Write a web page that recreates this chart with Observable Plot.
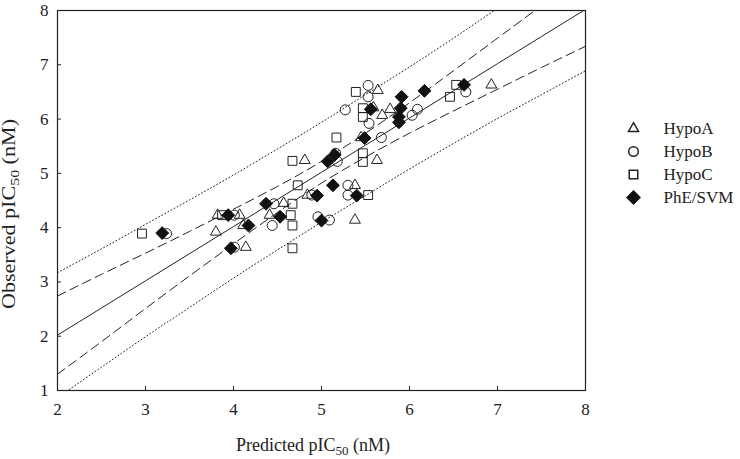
<!DOCTYPE html>
<html><head><meta charset="utf-8">
<script src="https://cdn.jsdelivr.net/npm/d3@7"></script>
<script src="https://cdn.jsdelivr.net/npm/@observablehq/plot@0.6"></script>
<style>
body{margin:0;background:#fff;}
#wrap{position:relative;width:740px;height:459px;font-family:"Liberation Serif","Times New Roman",serif;}
#legend{position:absolute;left:615px;top:113px;}
</style></head><body><div id="wrap"><div id="chart"></div><div id="legend"></div></div>
<script>
// ---- data ----
const seriesNames = ["HypoA", "HypoB", "HypoC", "PhE/SVM"];
const seriesSymbols = ["triangle2", "circle", "square", "diamond2"];

const hypoAPred = [3.82, 4.07, 3.80, 4.11, 4.14, 4.57, 4.41, 4.81, 5.63, 4.84, 5.38, 5.38, 5.64, 5.59, 5.69, 5.78, 5.45, 6.93];
const hypoAObs  = [4.23, 4.23, 3.92, 4.04, 3.64, 4.45, 4.23, 5.24, 5.24, 4.60, 4.78, 4.14, 6.53, 6.21, 6.07, 6.18, 5.66, 6.63];

const hypoBPred = [3.24, 4.01, 4.01, 4.46, 4.44, 5.18, 5.30, 4.89, 5.30, 4.96, 5.09, 5.53, 5.53, 5.27, 5.54, 5.68, 5.16, 6.03, 6.09, 6.64];
const hypoBObs  = [3.89, 4.23, 3.64, 4.44, 4.04, 5.22, 4.78, 4.60, 4.60, 4.20, 4.14, 6.62, 6.41, 6.17, 5.92, 5.66, 5.37, 6.07, 6.18, 6.50];

const hypoCPred = [2.96, 3.87, 4.67, 4.65, 4.67, 4.67, 4.73, 4.67, 5.47, 5.47, 5.53, 5.39, 5.47, 5.47, 5.17, 6.53, 6.46];
const hypoCObs  = [3.89, 4.23, 4.44, 4.23, 4.04, 3.62, 4.78, 5.23, 5.21, 5.37, 4.60, 6.50, 6.20, 6.04, 5.66, 6.63, 6.41];

const pheSvmPred = [3.19, 3.94, 4.17, 3.97, 4.37, 4.53, 5.07, 5.15, 5.13, 4.95, 5.40, 5.00, 5.56, 5.49, 5.91, 6.17, 6.62, 5.90, 5.88, 5.88];
const pheSvmObs  = [3.90, 4.23, 4.04, 3.62, 4.44, 4.20, 5.22, 5.34, 4.78, 4.59, 4.59, 4.13, 6.18, 5.65, 6.41, 6.52, 6.63, 6.20, 6.04, 5.94];

// fitted line and bands, read at these predicted values
const bandX     = [2, 2.5, 3, 3.5, 4, 4.5, 5, 5.5, 6, 6.5, 7, 7.5, 8];
const fitY      = [2.02, 2.52, 3.02, 3.52, 4.02, 4.52, 5.02, 5.52, 6.02, 6.52, 7.02, 7.52, 8.02];
const confUpper = [2.74, 3.14, 3.53, 3.93, 4.34, 4.76, 5.22, 5.74, 6.30, 6.89, 7.49, 8.09, 8.70];
const confLower = [1.30, 1.90, 2.51, 3.11, 3.70, 4.28, 4.82, 5.30, 5.74, 6.15, 6.55, 6.95, 7.34];
const predUpper = [3.17, 3.61, 4.06, 4.51, 4.97, 5.45, 5.94, 6.45, 6.96, 7.49, 8.04, 8.59, 9.15];
const predLower = [0.87, 1.43, 1.99, 2.53, 3.07, 3.59, 4.10, 4.59, 5.08, 5.55, 6.01, 6.45, 6.89];

const xTicks = [2, 3, 4, 5, 6, 7, 8];
const yTicks = [1, 2, 3, 4, 5, 6, 7, 8];

// ---- build tables ----
const pts = (xs, ys) => xs.map((x, i) => ({x, y: ys[i]}));
const A = pts(hypoAPred, hypoAObs), B = pts(hypoBPred, hypoBObs), C = pts(hypoCPred, hypoCObs), D = pts(pheSvmPred, pheSvmObs);
const lines = bandX.map((x, i) => ({x, fit: fitY[i], cu: confUpper[i], cl: confLower[i], pu: predUpper[i], pl: predLower[i]}));

const ink = "#222";
const font = "'Liberation Serif', 'Times New Roman', serif";
const dotOpts = {x: "x", y: "y", r: 5, stroke: ink, strokeWidth: 1, fill: "none"};
const lineOpts = {x: "x", stroke: ink, strokeWidth: 1, clip: true, curve: "natural"};

const chart = Plot.plot({
  width: 740, height: 459,
  marginLeft: 57, marginRight: 155, marginTop: 10, marginBottom: 69,
  x: {domain: [2, 8], label: null},
  y: {domain: [1, 8], label: null},
  style: {fontFamily: font, fontSize: "17px", color: ink, background: "#fff"},
  marks: [
    Plot.line(lines, {...lineOpts, y: "pu", strokeDasharray: "1,2.5"}),
    Plot.line(lines, {...lineOpts, y: "pl", strokeDasharray: "1,2.5"}),
    Plot.line(lines, {...lineOpts, y: "cu", strokeDasharray: "9,5"}),
    Plot.line(lines, {...lineOpts, y: "cl", strokeDasharray: "9,5"}),
    Plot.line(lines, {...lineOpts, y: "fit"}),
    Plot.dot(A, {...dotOpts, symbol: "triangle2", r: 5.2}),
    Plot.dot(B, {...dotOpts, symbol: "circle"}),
    Plot.dot(C, {...dotOpts, symbol: "square"}),
    Plot.dot(D, {...dotOpts, symbol: "diamond2", r: 5.8, fill: "#111", stroke: "#111"}),
    Plot.frame({stroke: ink, strokeWidth: 1.2}),
    Plot.axisX(xTicks, {tickSize: 0, tickPadding: 12, fontSize: 17, tickFormat: d => String(d)}),
    Plot.axisX(xTicks, {tickSize: -4, tickFormat: () => ""}),
    Plot.axisY(yTicks, {tickSize: 0, tickPadding: 9, fontSize: 17, tickFormat: d => String(d)}),
    Plot.axisY(yTicks, {tickSize: -4, tickFormat: () => ""})
  ]
});
document.getElementById("chart").append(chart);

// axis titles with subscripts
const svg = d3.select(chart);
const xt = svg.append("text").attr("x", 313).attr("y", 451).attr("text-anchor", "middle")
  .attr("font-size", 18).attr("fill", ink).attr("font-family", font);
xt.append("tspan").text("Predicted pIC");
xt.append("tspan").attr("font-size", 13).attr("dy", 4).text("50");
xt.append("tspan").attr("dy", -4).text(" (nM)");
const yt = svg.append("text").attr("transform", "translate(15,214) rotate(-90)").attr("text-anchor", "middle")
  .attr("font-size", 18).attr("fill", ink).attr("font-family", font)
  .attr("textLength", 190).attr("lengthAdjust", "spacingAndGlyphs");
yt.append("tspan").text("Observed pIC");
yt.append("tspan").attr("font-size", 13).attr("dy", 4).text("50");
yt.append("tspan").attr("dy", -4).text(" (nM)");

// legend
const legend = Plot.plot({
  width: 125, height: 100, margin: 0,
  y: {type: "point", domain: seriesNames, range: [15, 84], padding: 0, axis: null},
  symbol: {domain: seriesNames, range: seriesSymbols},
  style: {fontFamily: font, fontSize: "17px", color: ink, background: "transparent"},
  marks: [
    Plot.dot(seriesNames.slice(0, 3), {y: d => d, symbol: d => d, frameAnchor: "left", dx: 18, r: 4.8, stroke: ink, fill: "none"}),
    Plot.dot(seriesNames.slice(3), {y: d => d, symbol: d => d, frameAnchor: "left", dx: 18, r: 5.8, stroke: "#111", fill: "#111"}),
    Plot.text(seriesNames, {y: d => d, text: d => d, frameAnchor: "left", dx: 48, textAnchor: "start", fontSize: 17, fill: ink})
  ]
});
document.getElementById("legend").append(legend);
</script>
</body></html>
